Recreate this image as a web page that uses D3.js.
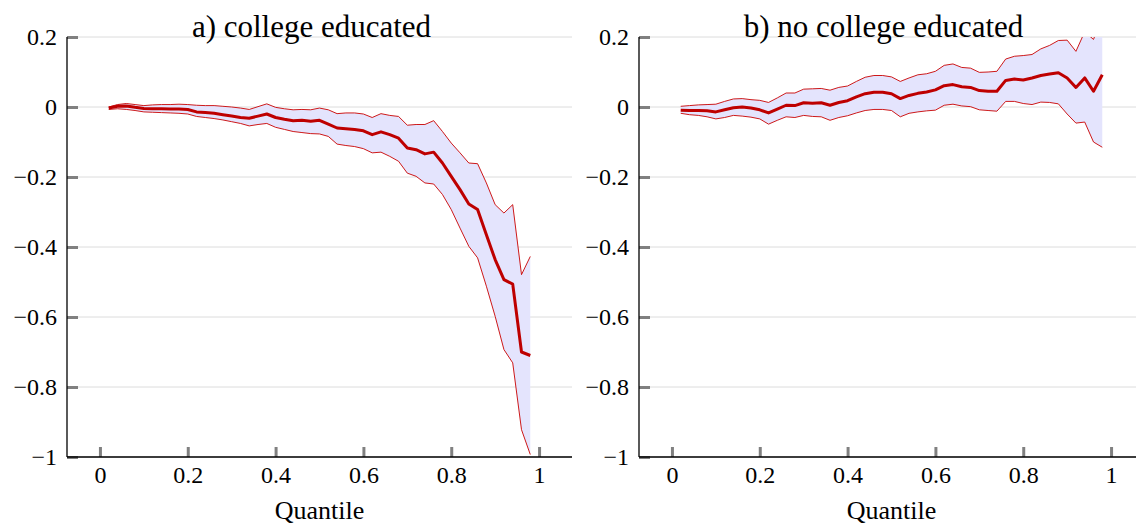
<!DOCTYPE html>
<html>
<head>
<meta charset="utf-8">
<script src="https://cdn.jsdelivr.net/npm/d3@7"></script>
<style>
    body { margin: 0; background: #fff; }
</style>
</head>
<body>
<svg id="drawing"></svg>
<script>
const quantiles = [0.02, 0.04, 0.06, 0.08, 0.10, 0.12, 0.14, 0.16, 0.18, 0.20,
    0.22, 0.24, 0.26, 0.28, 0.30, 0.32, 0.34, 0.36, 0.38, 0.40,
    0.42, 0.44, 0.46, 0.48, 0.50, 0.52, 0.54, 0.56, 0.58, 0.60,
    0.62, 0.64, 0.66, 0.68, 0.70, 0.72, 0.74, 0.76, 0.78, 0.80,
    0.82, 0.84, 0.86, 0.88, 0.90, 0.92, 0.94, 0.96, 0.98];

const collegeMean = [-0.003, 0.002, 0.003, -0.001, -0.004, -0.005, -0.005, -0.006, -0.006, -0.007,
    -0.014, -0.016, -0.018, -0.022, -0.026, -0.030, -0.032, -0.026, -0.020, -0.030,
    -0.035, -0.039, -0.038, -0.041, -0.038, -0.049, -0.060, -0.062, -0.064, -0.068,
    -0.079, -0.071, -0.079, -0.089, -0.117, -0.122, -0.134, -0.129, -0.160, -0.198,
    -0.236, -0.277, -0.293, -0.365, -0.436, -0.493, -0.506, -0.700, -0.710];
const collegeUpper = [0.000, 0.007, 0.010, 0.007, 0.004, 0.006, 0.007, 0.007, 0.008, 0.007,
    0.005, 0.004, 0.004, 0.002, 0.000, -0.003, -0.007, 0.001, 0.009, -0.001,
    -0.005, -0.008, -0.007, -0.008, -0.003, -0.008, -0.019, -0.017, -0.017, -0.020,
    -0.030, -0.019, -0.024, -0.027, -0.052, -0.050, -0.050, -0.039, -0.070, -0.103,
    -0.131, -0.160, -0.162, -0.217, -0.279, -0.303, -0.279, -0.479, -0.427];
const collegeLower = [-0.007, -0.005, -0.007, -0.010, -0.014, -0.015, -0.016, -0.017, -0.018, -0.020,
    -0.027, -0.030, -0.033, -0.037, -0.042, -0.047, -0.054, -0.050, -0.047, -0.058,
    -0.064, -0.070, -0.073, -0.076, -0.077, -0.084, -0.106, -0.110, -0.113, -0.119,
    -0.131, -0.129, -0.141, -0.155, -0.189, -0.198, -0.217, -0.220, -0.250, -0.293,
    -0.346, -0.398, -0.431, -0.512, -0.598, -0.693, -0.731, -0.922, -0.993];

const noCollegeMean = [-0.009, -0.010, -0.010, -0.011, -0.014, -0.008, -0.002, 0.000, -0.003, -0.008,
    -0.017, -0.006, 0.005, 0.004, 0.012, 0.011, 0.012, 0.005, 0.013, 0.018,
    0.029, 0.038, 0.042, 0.042, 0.038, 0.024, 0.033, 0.039, 0.043, 0.049,
    0.061, 0.064, 0.058, 0.056, 0.047, 0.045, 0.045, 0.076, 0.080, 0.077,
    0.083, 0.090, 0.094, 0.098, 0.083, 0.056, 0.083, 0.045, 0.092];
const noCollegeUpper = [0.002, 0.004, 0.006, 0.007, 0.008, 0.016, 0.023, 0.024, 0.021, 0.019,
    0.013, 0.026, 0.040, 0.040, 0.051, 0.052, 0.053, 0.048, 0.056, 0.060,
    0.073, 0.085, 0.090, 0.090, 0.086, 0.073, 0.083, 0.092, 0.095, 0.102,
    0.119, 0.123, 0.113, 0.111, 0.099, 0.100, 0.102, 0.137, 0.145, 0.147,
    0.150, 0.166, 0.176, 0.190, 0.191, 0.159, 0.215, 0.193, 0.260];
const noCollegeLower = [-0.018, -0.022, -0.024, -0.028, -0.034, -0.030, -0.024, -0.026, -0.029, -0.034,
    -0.049, -0.038, -0.028, -0.030, -0.024, -0.027, -0.028, -0.038, -0.030, -0.025,
    -0.017, -0.010, -0.007, -0.007, -0.010, -0.028, -0.018, -0.014, -0.011, -0.009,
    0.005, 0.008, 0.003, 0.001, -0.008, -0.010, -0.012, 0.016, 0.016, 0.010,
    0.007, 0.014, 0.013, 0.009, -0.020, -0.046, -0.043, -0.100, -0.115];

const xTicks = [0, 0.2, 0.4, 0.6, 0.8, 1];
const yTicks = [-1, -0.8, -0.6, -0.4, -0.2, 0, 0.2];
const panelTitles = ["a) college educated", "b) no college educated"];
const xLabel = "Quantile";

const FONT = '"Liberation Serif"';

const svg = d3.select('#drawing')
    .attr('width', 1136)
    .attr('height', 525);

function drawPanel(config, mean, upper, lower) {
    const g = svg.append('g');

    const xscale = d3.scaleLinear()
        .domain([-0.075, 1.075])
        .range([config.left, config.right]);
    const yscale = d3.scaleLinear()
        .domain([-1, 0.2])
        .range([config.bottom, config.top]);

    const data = quantiles.map((q, i) => ({ q: q, m: mean[i], hi: upper[i], lo: lower[i] }));

    // grid lines
    g.append('g')
        .selectAll('line')
        .data(yTicks)
        .join('line')
        .attr('x1', config.left)
        .attr('x2', config.right)
        .attr('y1', d => yscale(d))
        .attr('y2', d => yscale(d))
        .attr('stroke', '#dcdcdc')
        .attr('stroke-width', 1);

    // clip for the data
    g.append('clipPath')
        .attr('id', config.id + '-clip')
        .append('rect')
        .attr('x', config.left)
        .attr('y', config.top)
        .attr('width', config.right - config.left)
        .attr('height', config.bottom - config.top);

    const plot = g.append('g')
        .attr('clip-path', `url(#${config.id}-clip)`);

    const area = d3.area()
        .x(d => xscale(d.q))
        .y0(d => yscale(d.lo))
        .y1(d => yscale(d.hi));

    plot.append('path')
        .datum(data)
        .attr('d', area)
        .attr('fill', 'rgb(228,228,253)');

    const bound = key => d3.line()
        .x(d => xscale(d.q))
        .y(d => yscale(d[key]));

    ['hi', 'lo'].forEach(key => {
        plot.append('path')
            .datum(data)
            .attr('d', bound(key))
            .attr('fill', 'none')
            .attr('stroke', 'rgb(200,0,0)')
            .attr('stroke-width', 0.9);
    });

    plot.append('path')
        .datum(data)
        .attr('d', bound('m'))
        .attr('fill', 'none')
        .attr('stroke', 'rgb(190,0,0)')
        .attr('stroke-width', 3)
        .attr('stroke-linejoin', 'round');

    // axes
    const xaxis = d3.axisBottom(xscale)
        .tickValues(xTicks)
        .tickSize(-10)
        .tickPadding(9)
        .tickFormat(d3.format('~g'));
    const yaxis = d3.axisLeft(yscale)
        .tickValues(yTicks)
        .tickSize(-11)
        .tickPadding(10)
        .tickFormat(d => d3.format('~g')(d).replace('-', '\u2212'));

    const xg = g.append('g')
        .attr('transform', `translate(0, ${config.bottom})`)
        .call(xaxis);
    const yg = g.append('g')
        .attr('transform', `translate(${config.left}, 0)`)
        .call(yaxis);

    [xg, yg].forEach(ax => {
        ax.attr('font-family', null).attr('font-size', null);
        ax.select('.domain').remove();
        ax.selectAll('.tick line')
            .attr('stroke', '#808080')
            .attr('stroke-width', 3);
        ax.selectAll('.tick text')
            .attr('fill', '#000')
            .style('font-size', '24px')
            .style('font-family', FONT);
    });

    // axis lines
    g.append('line')
        .attr('x1', config.left).attr('x2', config.left)
        .attr('y1', config.top).attr('y2', config.bottom)
        .attr('stroke', '#000').attr('stroke-width', 1.3);
    g.append('line')
        .attr('x1', config.left).attr('x2', config.right)
        .attr('y1', config.bottom).attr('y2', config.bottom)
        .attr('stroke', '#000').attr('stroke-width', 1.3);

    // title
    g.append('text')
        .attr('x', (config.left + config.right) / 2 - 8)
        .attr('y', 37)
        .attr('text-anchor', 'middle')
        .style('font-family', FONT)
        .style('font-size', '31px')
        .text(config.title);

    // x label
    g.append('text')
        .attr('x', (config.left + config.right) / 2)
        .attr('y', 519)
        .attr('text-anchor', 'middle')
        .style('font-family', FONT)
        .style('font-size', '26px')
        .text(xLabel);
}

drawPanel({ id: 'a', left: 67, right: 572, top: 37, bottom: 457, title: panelTitles[0] },
    collegeMean, collegeUpper, collegeLower);
drawPanel({ id: 'b', left: 639, right: 1144, top: 37, bottom: 457, title: panelTitles[1] },
    noCollegeMean, noCollegeUpper, noCollegeLower);
</script>
</body>
</html>
